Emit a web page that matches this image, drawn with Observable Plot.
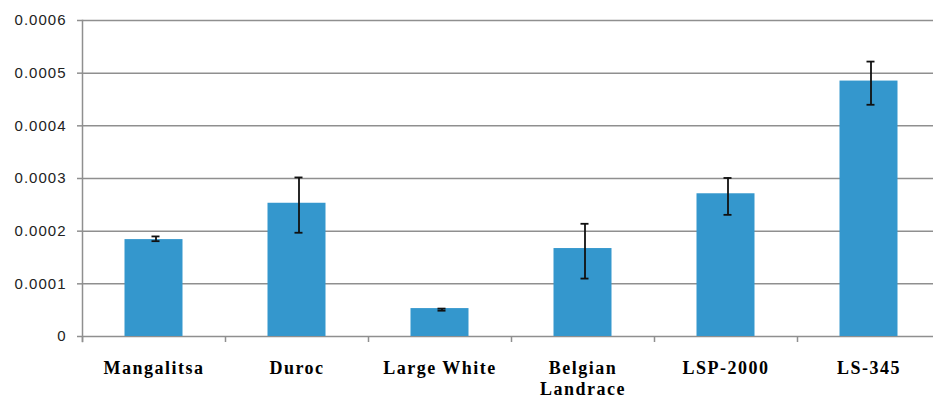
<!DOCTYPE html>
<html>
<head>
<meta charset="utf-8">
<script src="https://cdn.jsdelivr.net/npm/d3@7"></script>
<script src="https://cdn.jsdelivr.net/npm/@observablehq/plot@0.6"></script>
<style>
  html, body { margin: 0; padding: 0; background: #fff; overflow: hidden; }
  #chart svg { display: block; }
  g[aria-label="x-axis tick label"], g[aria-label="x-axis tick label"] text {
    font-family: "Liberation Serif", "Times New Roman", serif !important;
    font-weight: bold !important;
    font-size: 18px !important;
    letter-spacing: 1.5px;
  }
  g[aria-label="y-axis tick label"], g[aria-label="y-axis tick label"] text {
    font-family: "Liberation Sans", Arial, sans-serif !important;
    font-size: 15px !important;
    letter-spacing: 1px;
  }
</style>
</head>
<body>
<div id="chart"></div>
<script>
const breeds = ["Mangalitsa", "Duroc", "Large White", "Belgian Landrace", "LSP-2000", "LS-345"];
const breedLabels = ["Mangalitsa", "Duroc", "Large White", "Belgian\nLandrace", "LSP-2000", "LS-345"];
const means = [0.000184, 0.000253, 0.000053, 0.000167, 0.000271, 0.000485];
const errLow = [0.000181, 0.000197, 0.000049, 0.000110, 0.000231, 0.000440];
const errHigh = [0.000190, 0.000302, 0.000053, 0.000214, 0.000301, 0.000522];
const yTicks = [0, 0.0001, 0.0002, 0.0003, 0.0004, 0.0005, 0.0006];
const yTickLabels = ["0", "0.0001", "0.0002", "0.0003", "0.0004", "0.0005", "0.0006"];

const data = breeds.map((b, i) => ({breed: b, mean: means[i], lo: errLow[i], hi: errHigh[i]}));
const caps = data.flatMap(d => [{breed: d.breed, v: d.lo}, {breed: d.breed, v: d.hi}]);

const chart = Plot.plot({
  width: 933,
  height: 401,
  marginLeft: 82,
  marginRight: -7,
  marginTop: 20,
  marginBottom: 65,
  x: {domain: breeds, padding: 0},
  y: {domain: [0, 0.0006]},
  style: {background: "#fff"},
  marks: [
    Plot.gridY(yTicks, {stroke: "#8f8f8f", strokeOpacity: 1, strokeWidth: 1.5}),
    Plot.frame({anchor: "left", stroke: "#8f8f8f", strokeWidth: 1.5, insetBottom: -5}),
    Plot.axisY(yTicks, {
      tickSize: 5, tickPadding: 11, stroke: "#8f8f8f", strokeWidth: 1.5,
      tickFormat: (d, i) => yTickLabels[i],
      fill: "#222"
    }),
    Plot.axisX({
      tickSize: 6, tickFormat: null, dx: -71.5, stroke: "#8f8f8f", strokeWidth: 1.5, label: null
    }),
    Plot.axisX({
      tickSize: 0, tickPadding: 22, label: null,
      tickFormat: (d, i) => breedLabels[i],
      fill: "#000", lineHeight: 1.2
    }),
    Plot.barY(data, {x: "breed", y: "mean", fill: "#3497cd", insetLeft: 42.5, insetRight: 42.5}),
    Plot.ruleX(data, {x: "breed", y1: "lo", y2: "hi", stroke: "#111", strokeWidth: 1.8, dx: 2}),
    Plot.tickY(caps, {x: "breed", y: "v", stroke: "#111", strokeWidth: 1.8, insetLeft: 67.5, insetRight: 67.5, dx: 2})
  ]
});
document.getElementById("chart").appendChild(chart);
</script>
</body>
</html>
